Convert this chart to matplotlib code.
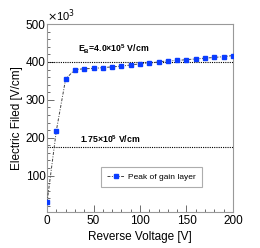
import matplotlib
matplotlib.use("Agg")
import matplotlib.pyplot as plt
from matplotlib.ticker import MultipleLocator

plt.rcParams['font.family'] = ['Liberation Sans', 'DejaVu Sans']
plt.rcParams['mathtext.fontset'] = 'custom'
plt.rcParams['mathtext.rm'] = 'Liberation Sans:bold'
plt.rcParams['mathtext.it'] = 'Liberation Sans:bold'
plt.rcParams['mathtext.bf'] = 'Liberation Sans:bold'

voltage = [0, 10, 20, 30, 40, 50, 60, 70, 80, 90, 100, 110, 120, 130, 140, 150, 160, 170, 180, 190, 200]
field_k = [30, 219, 355, 380, 382, 383, 385, 387, 389, 392, 395, 397, 400, 403, 404, 406, 408, 410, 412, 414, 417]
ref_lines = [400, 175]
x_ticks = [0, 50, 100, 150, 200]
y_ticks = [100, 200, 300, 400, 500]

fig = plt.figure(figsize=(2.60, 2.48), dpi=100)
ax = fig.add_axes([0.181, 0.145, 0.715, 0.758])

ax.plot(voltage, field_k, linestyle=(0, (3, 1.5, 1, 1.5)), color='#444444', lw=0.7,
        marker='s', markersize=3.3, markerfacecolor='#0a3cff', markeredgecolor='#0a3cff',
        label='Peak of gain layer', zorder=3)
for v in ref_lines:
    ax.axhline(v, color='black', linestyle=(0, (1, 1)), lw=0.8, zorder=2)

ax.text(33, 424, r'E$_{B}$=4.0$\times$10$^{5}$ V/cm', fontsize=6.3, fontweight='bold',
        ha='left', va='baseline')
ax.text(35, 186, r'1.75$\times$10$^{5}$ V/cm', fontsize=6.3, fontweight='bold',
        ha='left', va='baseline')

ax.set_xlim(0, 200)
ax.set_ylim(4, 500)
ax.set_xticks(x_ticks)
ax.set_yticks(y_ticks)
ax.xaxis.set_minor_locator(MultipleLocator(10))
ax.yaxis.set_minor_locator(MultipleLocator(20))
ax.tick_params(which='both', direction='in', labelsize=8.5, color='#555555')
ax.tick_params(which='major', length=5, width=0.6)
ax.tick_params(which='minor', length=2.5, width=0.6)
ax.tick_params(axis='x', pad=2)
ax.tick_params(axis='y', pad=1)
for s in ax.spines.values():
    s.set_color('#999999')
    s.set_linewidth(0.8)

ax.set_xlabel('Reverse Voltage [V]', fontsize=8.5, labelpad=3)
ax.set_ylabel('Electric Filed [V/cm]', fontsize=8.5, labelpad=2)
ax.text(0.0, 1.0, r'$\times$10$^{3}$', transform=ax.transAxes, fontsize=8,
        ha='left', va='bottom', fontweight='normal',
        math_fontfamily='dejavusans')

leg = ax.legend(loc='upper left', bbox_to_anchor=(0.29, 0.239), fontsize=6,
                frameon=True, fancybox=False, edgecolor='#999999', handlelength=2.0,
                handletextpad=0.5, borderpad=0.75, borderaxespad=0)
leg.get_frame().set_linewidth(0.8)

fig.savefig('out.png', dpi=100)
